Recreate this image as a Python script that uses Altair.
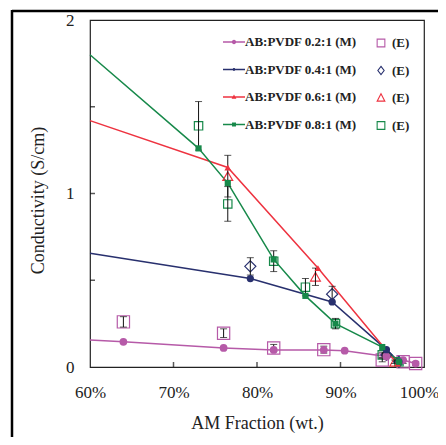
import altair as alt
import pandas as pd

# ---------------- data ----------------
x_tick_values = [60, 70, 80, 90, 100]
y_tick_values = [0, 1, 2]
inner_x_ticks = [70, 80, 90]
inner_y_ticks = [0.5, 1.0, 1.5]

ratios = ["0.2:1", "0.4:1", "0.6:1", "0.8:1"]
colors = ["#b65aa8", "#28306e", "#ee3340", "#17894a"]

# model curves (M); first point (60%) is the line start without marker
m02_x = [60, 64, 76, 82, 88, 90.5, 95.5, 97.5, 99]
m02_y = [0.155, 0.145, 0.11, 0.098, 0.098, 0.094, 0.06, 0.04, 0.02]
m04_x = [60, 79.2, 89, 95.5, 97]
m04_y = [0.655, 0.51, 0.375, 0.10, 0.03]
m06_x = [60, 76.5, 87.3, 96.8]
m06_y = [1.42, 1.15, 0.57, 0.02]
m08_x = [60, 73, 76.5, 82, 85.8, 89.4, 95, 97]
m08_y = [1.80, 1.26, 1.06, 0.62, 0.41, 0.25, 0.115, 0.03]

# experiments (E) with error
e02_x = [64, 76, 82, 88, 95, 97.5, 99]
e02_y = [0.26, 0.195, 0.11, 0.10, 0.04, 0.03, 0.02]
e02_err = [0.03, 0.025, 0.02, 0.02, 0.01, 0.01, 0.01]
e04_x = [79.2, 89, 95.5, 97]
e04_y = [0.58, 0.42, 0.07, 0.03]
e04_err = [0.05, 0.045, 0.01, 0.01]
e06_x = [76.5, 87, 96.5]
e06_y = [1.10, 0.52, 0.03]
e06_err = [0.12, 0.05, 0.01]
e08_x = [73, 76.5, 82, 85.8, 89.4, 95, 97]
e08_y = [1.39, 0.94, 0.61, 0.46, 0.25, 0.07, 0.03]
e08_err = [0.14, 0.10, 0.06, 0.05, 0.03, 0.015, 0.01]

m_series = [(m02_x, m02_y), (m04_x, m04_y), (m06_x, m06_y), (m08_x, m08_y)]
e_series = [(e02_x, e02_y, e02_err), (e04_x, e04_y, e04_err),
            (e06_x, e06_y, e06_err), (e08_x, e08_y, e08_err)]

m_keys = [f"AB:PVDF {r} (M)" for r in ratios]
e_keys = [f"AB:PVDF {r} (E)" for r in ratios]

m_rows = []
for k, (xs, ys) in zip(m_keys, m_series):
    for i, (xv, yv) in enumerate(zip(xs, ys)):
        m_rows.append({"key": k, "x": xv, "y": yv, "order": i, "marker": i > 0})
m_df = pd.DataFrame(m_rows)

e_rows = []
for k, (xs, ys, es) in zip(e_keys, e_series):
    for xv, yv, ev in zip(xs, ys, es):
        e_rows.append({"key": k, "x": xv, "y": yv, "lo": yv - ev, "hi": yv + ev})
e_df = pd.DataFrame(e_rows)

# ---------------- styling ----------------
FONT = "Liberation Serif"
TXT = "#222222"
W, H = 334, 347

x_scale = alt.Scale(domain=[60, 100], nice=False, zero=False)
y_scale = alt.Scale(domain=[0, 2], nice=False, zero=True)

x_axis = alt.Axis(values=x_tick_values, labelExpr="datum.value + '%'",
                  title="AM Fraction (wt.)", ticks=False, tickSize=0, domain=False,
                  grid=False, labelFlush=False, labelOverlap=False,
                  labelOffset={"condition": {"test": "datum.value == 100", "value": -5},
                               "value": 0},
                  labelPadding=17, titlePadding=14, labelFont=FONT, titleFont=FONT,
                  labelFontSize=17, titleFontSize=18, titleFontWeight="normal",
                  labelColor=TXT, titleColor=TXT)
y_axis = alt.Axis(values=y_tick_values, labelExpr="format(datum.value, '.0f')",
                  title="Conductivity (S/cm)", titleY=180,
                  ticks=False, tickSize=0, domain=False, grid=False, labelFlush=False,
                  labelOverlap=False, labelBound=False, labelPadding=16, titlePadding=18,
                  labelFont=FONT, titleFont=FONT, labelFontSize=17, titleFontSize=18,
                  titleFontWeight="normal", labelColor=TXT, titleColor=TXT)

X = lambda f="x": alt.X(f"{f}:Q", scale=x_scale, axis=x_axis)
Y = lambda f="y": alt.Y(f"{f}:Q", scale=y_scale, axis=y_axis)

m_color = alt.Scale(domain=m_keys, range=colors)
e_color = alt.Scale(domain=e_keys, range=colors)

# lines
lines = alt.Chart(m_df).mark_line(strokeWidth=1.5).encode(
    x=X(), y=Y(), order="order:Q",
    color=alt.Color("key:N", scale=m_color, legend=None),
)

# experimental open markers
e_pts = alt.Chart(e_df).mark_point(filled=False, strokeWidth=1.2, opacity=1).encode(
    x=X(), y=Y(),
    color=alt.Color("key:N", scale=e_color, legend=None),
    shape=alt.Shape("key:N", scale=alt.Scale(domain=e_keys,
                    range=["square", "diamond", "triangle-up", "square"]), legend=None),
    size=alt.Size("key:N", scale=alt.Scale(domain=e_keys, range=[150, 70, 90, 170]),
                  legend=None),
)

# error bars
err_rule = alt.Chart(e_df).mark_rule(color="#111111", strokeWidth=1).encode(
    x=X(), y=Y("lo"), y2="hi:Q")
err_lo = alt.Chart(e_df).mark_tick(orient="horizontal", color="#111111", size=7,
                                   thickness=1).encode(x=X(), y=Y("lo"))
err_hi = alt.Chart(e_df).mark_tick(orient="horizontal", color="#111111", size=7,
                                   thickness=1).encode(x=X(), y=Y("hi"))

# model markers
m_pts = alt.Chart(m_df).transform_filter("datum.marker").mark_point(
    filled=True, opacity=1).encode(
    x=X(), y=Y(),
    color=alt.Color("key:N", scale=m_color, legend=None),
    shape=alt.Shape("key:N", scale=alt.Scale(domain=m_keys,
                    range=["circle", "circle", "triangle-up", "square"]), legend=None),
    size=alt.Size("key:N", scale=alt.Scale(domain=m_keys, range=[60, 38, 80, 65]),
                  legend=None),
)

# legend-only layers (invisible marks)
m_leg_paths = [
    "M-1,-0.065H1V0.065H-1Z M-0.2,0A0.2,0.2 0 1,1 0.2,0A0.2,0.2 0 1,1 -0.2,0Z",
    "M-1,-0.065H1V0.065H-1Z M-0.13,0A0.13,0.13 0 1,1 0.13,0A0.13,0.13 0 1,1 -0.13,0Z",
    "M-1,-0.065H1V0.065H-1Z M0,-0.23L0.22,0.17L-0.22,0.17Z",
    "M-1,-0.065H1V0.065H-1Z M-0.18,-0.18H0.18V0.18H-0.18Z",
]
e_leg_paths = [
    "M-0.55,-0.55H0.55V0.55H-0.55Z",
    "M0,-0.6L0.45,0L0,0.6L-0.45,0Z",
    "M0,-0.6L0.55,0.45L-0.55,0.45Z",
    "M-0.55,-0.55H0.55V0.55H-0.55Z",
]

m_legend = alt.Legend(orient="none", legendX=133, legendY=11, title=None,
                      direction="vertical", symbolSize=484, symbolOpacity=1,
                      symbolStrokeWidth=0, labelFont=FONT, labelFontSize=13,
                      labelFontWeight="bold", labelColor=TXT, labelOffset=0,
                      rowPadding=9.5, padding=0, labelLimit=300)
e_legend = alt.Legend(orient="none", legendX=283, legendY=15, title=None,
                      direction="vertical", symbolSize=196, symbolOpacity=1,
                      symbolStrokeWidth=1.1, labelFont=FONT, labelFontSize=13,
                      labelFontWeight="bold", labelColor=TXT, labelOffset=3,
                      rowPadding=12.5, padding=0, labelExpr="'(E)'")

m_leg = alt.Chart(m_df).mark_point(filled=True, opacity=0).encode(
    x=X(), y=Y(),
    color=alt.Color("key:N", scale=m_color, legend=m_legend),
    shape=alt.Shape("key:N", scale=alt.Scale(domain=m_keys, range=m_leg_paths),
                    legend=m_legend),
)
e_leg = alt.Chart(e_df).mark_point(filled=False, opacity=0).encode(
    x=X(), y=Y(),
    color=alt.Color("key:N", scale=e_color, legend=e_legend),
    shape=alt.Shape("key:N", scale=alt.Scale(domain=e_keys, range=e_leg_paths),
                    legend=e_legend),
)

# inner ticks
xt_df = pd.DataFrame({"t": inner_x_ticks})
yt_df = pd.DataFrame({"t": inner_y_ticks})
x_inner = alt.Chart(xt_df).mark_tick(orient="vertical", color="#111111", size=5,
                                     thickness=1.5).encode(x=X("t"), y=alt.value(H - 2.5))
y_inner = alt.Chart(yt_df).mark_tick(orient="horizontal", color="#111111", size=5,
                                     thickness=1.5).encode(y=Y("t"), x=alt.value(2.5))

# figure frame (top and left border of the figure)
one = alt.Data(values=[{"a": 1}])
frame_top = alt.Chart(one).mark_rule(color="black", strokeWidth=2.5).encode(
    x=alt.value(-78), x2=alt.value(W + 20), y=alt.value(-9))
frame_left = alt.Chart(one).mark_rule(color="black", strokeWidth=2.5).encode(
    x=alt.value(-78), y=alt.value(-10), y2=alt.value(H + 75))

chart = alt.layer(
    lines, e_pts, err_rule, err_lo, err_hi, m_pts, m_leg, e_leg,
    x_inner, y_inner, frame_top, frame_left,
).resolve_scale(
    color="independent", shape="independent", size="independent"
).properties(
    width=W, height=H,
    autosize=alt.AutoSizeParams(type="none"),
    padding={"left": 82, "top": 12, "right": 14, "bottom": 70},
    background="white",
).configure_view(stroke="#222222", strokeWidth=1.2)

chart.save("out.html", embed_options={"renderer": "svg", "actions": False})
